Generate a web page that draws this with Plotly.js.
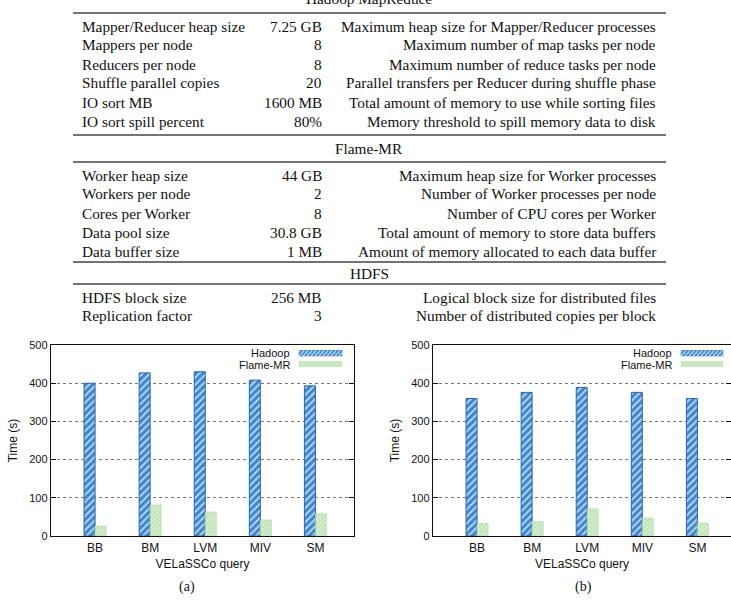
<!DOCTYPE html>
<html>
<head>
<meta charset="utf-8">
<script src="https://cdn.plot.ly/plotly-3.0.1.min.js"></script>
<style>html,body{margin:0;padding:0;background:#fff;}#chart{width:731px;height:600px;}</style>
</head>
<body>
<div id="chart"></div>
<script>
// ---------- data ----------
const sectionTitles = ['Hadoop MapReduce', 'Flame-MR', 'HDFS'];

const hadoopParams = ['Mapper/Reducer heap size', 'Mappers per node', 'Reducers per node', 'Shuffle parallel copies', 'IO sort MB', 'IO sort spill percent'];
const hadoopValues = ['7.25 GB', '8', '8', '20', '1600 MB', '80%'];
const hadoopDescs = ['Maximum heap size for Mapper/Reducer processes', 'Maximum number of map tasks per node', 'Maximum number of reduce tasks per node', 'Parallel transfers per Reducer during shuffle phase', 'Total amount of memory to use while sorting files', 'Memory threshold to spill memory data to disk'];

const flameParams = ['Worker heap size', 'Workers per node', 'Cores per Worker', 'Data pool size', 'Data buffer size'];
const flameValues = ['44 GB', '2', '8', '30.8 GB', '1 MB'];
const flameDescs = ['Maximum heap size for Worker processes', 'Number of Worker processes per node', 'Number of CPU cores per Worker', 'Total amount of memory to store data buffers', 'Amount of memory allocated to each data buffer'];

const hdfsParams = ['HDFS block size', 'Replication factor'];
const hdfsValues = ['256 MB', '3'];
const hdfsDescs = ['Logical block size for distributed files', 'Number of distributed copies per block'];

const queries = ['BB', 'BM', 'LVM', 'MIV', 'SM'];
const hadoopTimesA = [400, 427, 430, 408, 393];
const flameTimesA = [26, 81, 63, 42, 58];
const hadoopTimesB = [360, 376, 389, 376, 360];
const flameTimesB = [33, 38, 71, 47, 34];
const seriesNames = ['Hadoop', 'Flame-MR'];
const captions = ['(a)', '(b)'];

// ---------- layout helpers ----------
const W = 731, H = 600;
const px = x => x / W;
const py = y => 1 - y / H;
const serif = 'Liberation Serif, Times New Roman, serif';
const sans = 'Liberation Sans, Arial, Helvetica, sans-serif';

const annotations = [];
const shapes = [];

function hline(y) {
  shapes.push({type: 'line', xref: 'paper', yref: 'paper', x0: px(73), x1: px(666), y0: py(y), y1: py(y),
    line: {color: '#444', width: 1.4}});
}
function txt(text, x, y, anchor, size, family, color) {
  annotations.push({text: text, xref: 'paper', yref: 'paper', x: px(x), y: py(y), xanchor: anchor, yanchor: 'middle',
    showarrow: false, font: {family: family, size: size, color: color || '#111'}});
}
function tableRows(params, values, descs, y0) {
  params.forEach((p, i) => {
    const y = y0 + i * 19;
    txt(p, 80, y, 'left', 15.3, serif);
    txt(values[i], 324, y, 'right', 15.3, serif);
    txt(descs[i], 658, y, 'right', 15.3, serif);
  });
}

// table
txt(sectionTitles[0], 369, -1, 'center', 15.3, serif);
hline(13);
tableRows(hadoopParams, hadoopValues, hadoopDescs, 26);
hline(135);
txt(sectionTitles[1], 369, 149, 'center', 15.3, serif);
hline(162);
tableRows(flameParams, flameValues, flameDescs, 175);
hline(262);
txt(sectionTitles[2], 369, 273, 'center', 15.3, serif);
hline(284);
tableRows(hdfsParams, hdfsValues, hdfsDescs, 297);

// captions
txt(captions[0], 187, 587, 'center', 14, serif);
txt(captions[1], 583, 587, 'center', 14, serif);

// custom legends (text left, swatch right)
function legend(xTextEnd, xs0, xs1) {
  txt(seriesNames[0], xTextEnd, 352.5, 'right', 11, sans, '#111');
  txt(seriesNames[1], xTextEnd, 365, 'right', 11, sans, '#111');
  // Hadoop swatch
  shapes.push({type: 'rect', xref: 'paper', yref: 'paper', x0: px(xs0), x1: px(xs1), y0: py(356), y1: py(350.5),
    fillcolor: '#3f86cf', line: {color: '#2c64a8', width: 0.5}});
  let d = '';
  for (let x = xs0 - 4; x < xs1; x += 4) {
    const a = Math.max(x, xs0), b = Math.min(x + 5, xs1);
    d += `M${px(a)},${py(356 - (a - x))} L${px(b)},${py(356 - (b - x))} `;
  }
  shapes.push({type: 'path', xref: 'paper', yref: 'paper', path: d, line: {color: '#c0dcf4', width: 1.2}});
  // Flame-MR swatch
  shapes.push({type: 'rect', xref: 'paper', yref: 'paper', x0: px(xs0), x1: px(xs1), y0: py(366.5), y1: py(361.5),
    fillcolor: '#c9e9c1', line: {color: '#b2dca8', width: 0.5}});
}
legend(292, 299, 342);
legend(674, 681, 723);

// ---------- traces ----------
const hadoopMarker = {color: '#3f86cf', line: {color: '#2c64a8', width: 1},
  pattern: {shape: '/', fillmode: 'replace', bgcolor: '#3f86cf', fgcolor: '#bcd9f3', size: 5, solidity: 0.35}};
const flameMarker = {color: '#cdebc6', line: {color: '#acd9a1', width: 0.6},
  pattern: {shape: 'x', fillmode: 'replace', bgcolor: '#d6efd0', fgcolor: '#a0d496', size: 3, solidity: 0.3}};

const traces = [
  {type: 'bar', x: queries, y: hadoopTimesA, name: seriesNames[0], marker: hadoopMarker, xaxis: 'x', yaxis: 'y'},
  {type: 'bar', x: queries, y: flameTimesA, name: seriesNames[1], marker: flameMarker, xaxis: 'x', yaxis: 'y'},
  {type: 'bar', x: queries, y: hadoopTimesB, name: seriesNames[0], marker: hadoopMarker, xaxis: 'x2', yaxis: 'y2'},
  {type: 'bar', x: queries, y: flameTimesB, name: seriesNames[1], marker: flameMarker, xaxis: 'x2', yaxis: 'y2'}
];

function xAxis(domain, range, anchor) {
  return {domain: domain, anchor: anchor, type: 'category', range: range, showgrid: false, zeroline: false,
    showline: true, linecolor: '#111', linewidth: 1.3, mirror: true, ticks: '', fixedrange: true,
    tickfont: {family: sans, size: 12, color: '#111'},
    title: {text: 'VELaSSCo query', font: {family: sans, size: 12, color: '#111'}, standoff: 6}, automargin: false};
}
function yAxis(anchor) {
  return {domain: [py(536), py(345)], anchor: anchor, range: [0, 500], dtick: 100, showgrid: true,
    gridcolor: '#777', griddash: 'dot', gridwidth: 1, zeroline: false, showline: true, linecolor: '#111',
    linewidth: 1.3, mirror: 'ticks', ticks: 'inside', ticklen: 5, tickcolor: '#111', fixedrange: true,
    tickfont: {family: sans, size: 11, color: '#111'},
    title: {text: 'Time (s)', font: {family: sans, size: 12, color: '#111'}, standoff: 9}, automargin: false};
}

const layout = {
  width: W, height: H, margin: {l: 0, r: 0, t: 0, b: 0}, paper_bgcolor: '#fff', plot_bgcolor: '#fff',
  showlegend: false, barmode: 'group', bargap: 0.6, bargroupgap: 0,
  xaxis: xAxis([px(51), px(354)], [-0.8, 4.7], 'y'),
  yaxis: yAxis('x'),
  xaxis2: xAxis([px(433), 1], [-0.8, 4.61], 'y2'),
  yaxis2: yAxis('x2'),
  annotations: annotations, shapes: shapes
};

Plotly.newPlot('chart', traces, layout, {displayModeBar: false, staticPlot: true});
</script>
</body>
</html>
